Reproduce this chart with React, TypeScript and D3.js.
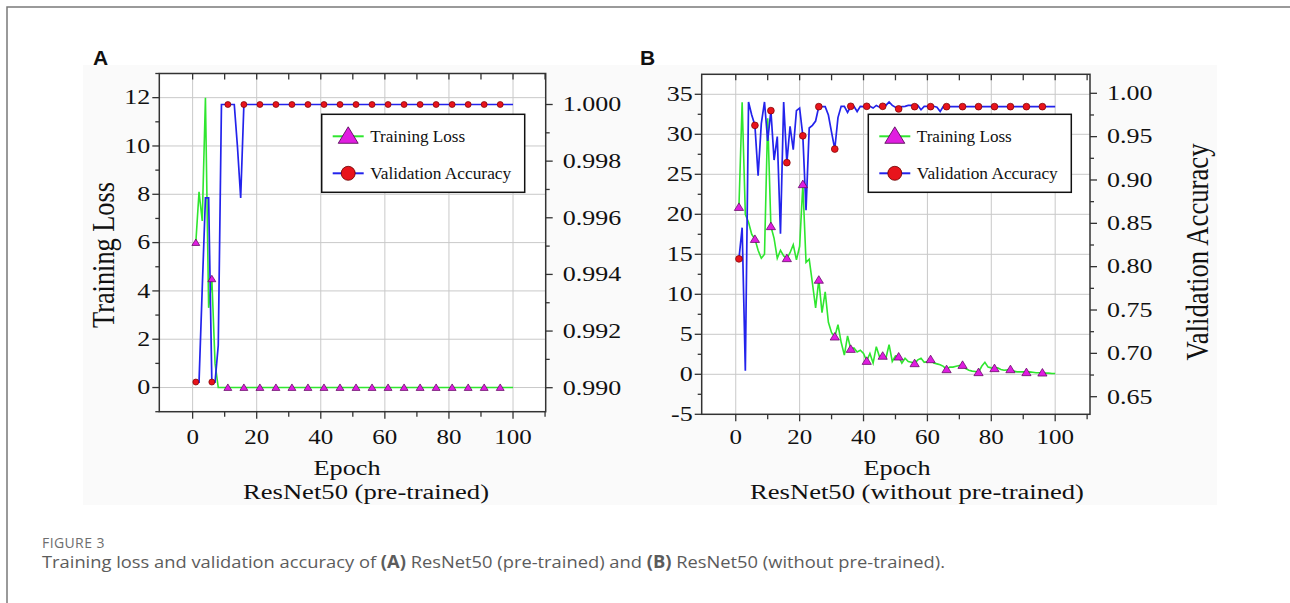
import React, { useEffect, useRef } from 'react';
import * as d3 from 'd3';

// epochs 1..100, markers every 5 epochs
const epochs = d3.range(1, 101);
const markerEpochs = [1, 6, 11, 16, 21, 26, 31, 36, 41, 46, 51, 56, 61, 66, 71, 76, 81, 86, 91, 96];

// panel A: ResNet50 (pre-trained)
const lossA = [
  6.0, 8.1, 6.9, 12.0, 3.3, 4.5, 1.0, 0.0, 0.0, 0.0,
  0.0, 0.0, 0.0, 0.0, 0.0, 0.0, 0.0, 0.0, 0.0, 0.0,
  0.0, 0.0, 0.0, 0.0, 0.0, 0.0, 0.0, 0.0, 0.0, 0.0,
  0.0, 0.0, 0.0, 0.0, 0.0, 0.0, 0.0, 0.0, 0.0, 0.0,
  0.0, 0.0, 0.0, 0.0, 0.0, 0.0, 0.0, 0.0, 0.0, 0.0,
  0.0, 0.0, 0.0, 0.0, 0.0, 0.0, 0.0, 0.0, 0.0, 0.0,
  0.0, 0.0, 0.0, 0.0, 0.0, 0.0, 0.0, 0.0, 0.0, 0.0,
  0.0, 0.0, 0.0, 0.0, 0.0, 0.0, 0.0, 0.0, 0.0, 0.0,
  0.0, 0.0, 0.0, 0.0, 0.0, 0.0, 0.0, 0.0, 0.0, 0.0,
  0.0, 0.0, 0.0, 0.0, 0.0, 0.0, 0.0, 0.0, 0.0, 0.0,
];
const accA = [
  0.9902, 0.9902, 0.9935, 0.9967, 0.9967, 0.9902, 0.9902, 0.9915, 1.0, 1.0,
  1.0, 1.0, 1.0, 0.9985, 0.9967, 1.0, 1.0, 1.0, 1.0, 1.0,
  1.0, 1.0, 1.0, 1.0, 1.0, 1.0, 1.0, 1.0, 1.0, 1.0,
  1.0, 1.0, 1.0, 1.0, 1.0, 1.0, 1.0, 1.0, 1.0, 1.0,
  1.0, 1.0, 1.0, 1.0, 1.0, 1.0, 1.0, 1.0, 1.0, 1.0,
  1.0, 1.0, 1.0, 1.0, 1.0, 1.0, 1.0, 1.0, 1.0, 1.0,
  1.0, 1.0, 1.0, 1.0, 1.0, 1.0, 1.0, 1.0, 1.0, 1.0,
  1.0, 1.0, 1.0, 1.0, 1.0, 1.0, 1.0, 1.0, 1.0, 1.0,
  1.0, 1.0, 1.0, 1.0, 1.0, 1.0, 1.0, 1.0, 1.0, 1.0,
  1.0, 1.0, 1.0, 1.0, 1.0, 1.0, 1.0, 1.0, 1.0, 1.0,
];

// panel B: ResNet50 (without pre-trained)
const lossB = [
  20.9, 34.0, 20.0, 19.0, 17.5, 16.9, 15.5, 14.5, 15.0, 32.0,
  18.5, 17.0, 14.5, 15.5, 14.8, 14.5, 15.2, 16.2, 14.3, 16.0,
  23.75, 14.0, 14.4, 11.4, 8.3, 11.8, 7.7, 10.3, 6.5, 5.2,
  4.7, 6.2, 4.0, 2.4, 4.8, 3.16, 3.3, 2.8, 3.0, 2.6,
  1.66, 2.6, 1.4, 3.45, 2.2, 2.3, 2.0, 3.7, 1.6, 2.3,
  2.2, 1.4, 2.0, 1.6, 1.5, 1.37, 1.8, 2.0, 1.5, 1.6,
  1.87, 1.4, 1.3, 1.2, 1.0, 0.62, 0.9, 0.9, 1.0, 1.1,
  1.16, 0.7, 0.5, 0.4, 0.35, 0.25, 1.0, 1.5, 0.9, 0.8,
  0.75, 0.8, 0.6, 0.5, 0.55, 0.62, 0.4, 0.3, 0.3, 0.3,
  0.25, 0.3, 0.25, 0.2, 0.2, 0.2, 0.15, 0.15, 0.1, 0.1,
];
const accB = [
  0.809, 0.845, 0.68, 0.99, 0.975, 0.963, 0.905, 0.965, 0.99, 0.945,
  0.98, 0.923, 0.95, 0.838, 0.99, 0.92, 0.962, 0.935, 0.98, 0.983,
  0.951, 0.865, 0.96, 0.963, 0.968, 0.9846, 0.9846, 0.9846, 0.975, 0.955,
  0.9357, 0.972, 0.985, 0.985, 0.978, 0.985, 0.985, 0.979, 0.985, 0.9846,
  0.985, 0.985, 0.983, 0.986, 0.984, 0.985, 0.986, 0.99, 0.986, 0.984,
  0.982, 0.9846, 0.985, 0.986, 0.986, 0.9846, 0.986, 0.981, 0.985, 0.985,
  0.9846, 0.985, 0.984, 0.979, 0.985, 0.9846, 0.9846, 0.9846, 0.9846, 0.9846,
  0.9846, 0.9846, 0.9846, 0.9846, 0.9846, 0.9846, 0.9846, 0.9846, 0.9846, 0.9846,
  0.9846, 0.9846, 0.9846, 0.9846, 0.9846, 0.9846, 0.9846, 0.9846, 0.9846, 0.9846,
  0.9846, 0.9846, 0.9846, 0.9846, 0.9846, 0.9846, 0.9846, 0.9846, 0.9846, 0.9846,
];

const xTicks = [0, 20, 40, 60, 80, 100];
const xMinor = [0, 10, 20, 30, 40, 50, 60, 70, 80, 90, 100, 110];
const leftTicksA = [0, 2, 4, 6, 8, 10, 12];
const leftMinorA = [-1, 1, 3, 5, 7, 9, 11, 13];
const rightTicksA = [0.99, 0.992, 0.994, 0.996, 0.998, 1.0];
const rightMinorA = [0.991, 0.993, 0.995, 0.997, 0.999];
const leftTicksB = [-5, 0, 5, 10, 15, 20, 25, 30, 35];
const leftMinorB = [-2.5, 2.5, 7.5, 12.5, 17.5, 22.5, 27.5, 32.5];
const rightTicksB = [0.65, 0.7, 0.75, 0.8, 0.85, 0.9, 0.95, 1.0];
const rightMinorB = [0.675, 0.725, 0.775, 0.825, 0.875, 0.925, 0.975];

const legendNames = ['Training Loss', 'Validation Accuracy'];

const GREEN = '#2fe62f';
const BLUE = '#2323ec';
const MAGENTA = '#e01ee0';
const RED = '#e8141c';
const SERIF = '"Liberation Serif", "Times New Roman", serif';
const SANS = '"Open Sans", "Noto Sans", sans-serif';

const panels = [
  {
    label: 'A', labelX: 93,
    left: 159.3, right: 545.7, top: 73.5, bottom: 411.7,
    xDomain: [-10.4, 110.2], yLDomain: [-1, 13], yRDomain: [0.99, 1.0], yRRange: [387.7, 104.5],
    loss: lossA, acc: accA, leftTicks: leftTicksA, leftMinor: leftMinorA,
    rightTicks: rightTicksA, rightMinor: rightMinorA, rightFmt: '.3f',
    legendX: 321.7, tri: 3.6, dot: 3,
    yTitle: 'Training Loss', yTitleX: 114, yTitleY: 255, yTitleLen: 146,
    sub: 'ResNet50 (pre-trained)', subLen: 246, epochX: 347, subX: 366,
  },
  {
    label: 'B', labelX: 640,
    left: 701.7, right: 1090, top: 74.3, bottom: 414.3,
    xDomain: [-10.66, 110.9], yLDomain: [-5, 37.5], yRDomain: [0.65, 1.0], yRRange: [396.7, 93.3],
    loss: lossB, acc: accB, leftTicks: leftTicksB, leftMinor: leftMinorB,
    rightTicks: rightTicksB, rightMinor: rightMinorB, rightFmt: '.2f',
    legendX: 868.3, tri: 4.2, dot: 3.4,
    yTitle: 'Validation Accuracy', yTitleX: 1208, yTitleY: 252, yTitleLen: 217,
    sub: 'ResNet50 (without pre-trained)', subLen: 334, epochX: 897, subX: 917,
  },
];

function triPath(cx: number, cy: number, s: number) {
  return `M${cx},${cy - s}L${cx + s * 1.1},${cy + s * 0.8}L${cx - s * 1.1},${cy + s * 0.8}Z`;
}

function drawPanel(svg: any, p: any) {
  const x = d3.scaleLinear().domain(p.xDomain).range([p.left, p.right]);
  const yL = d3.scaleLinear().domain(p.yLDomain).range([p.bottom, p.top]);
  const yR = d3.scaleLinear().domain(p.yRDomain).range(p.yRRange);
  const g = svg.append('g');

  g.append('rect').attr('x', p.left).attr('y', p.top)
    .attr('width', p.right - p.left).attr('height', p.bottom - p.top).attr('fill', '#fff');

  // grid
  g.selectAll('.gy').data(p.leftTicks.filter((v: number) => v > p.yLDomain[0])).enter().append('line')
    .attr('x1', p.left).attr('x2', p.right)
    .attr('y1', (d: number) => yL(d)).attr('y2', (d: number) => yL(d))
    .attr('stroke', '#c9c9c9').attr('stroke-width', 1);
  g.selectAll('.gx').data(xTicks).enter().append('line')
    .attr('y1', p.top).attr('y2', p.bottom)
    .attr('x1', (d: number) => x(d)).attr('x2', (d: number) => x(d))
    .attr('stroke', '#c9c9c9').attr('stroke-width', 1);

  // series
  const lossLine = d3.line<number>().x((d, i) => x(epochs[i])).y(d => yL(d));
  const accLine = d3.line<number>().x((d, i) => x(epochs[i])).y(d => yR(d));
  g.append('path').attr('d', lossLine(p.loss)).attr('fill', 'none')
    .attr('stroke', GREEN).attr('stroke-width', 1.6);
  g.append('path').attr('d', accLine(p.acc)).attr('fill', 'none')
    .attr('stroke', BLUE).attr('stroke-width', 1.7);

  g.selectAll('.tri').data(markerEpochs).enter().append('path')
    .attr('d', (e: number) => triPath(x(e), yL(p.loss[e - 1]), p.tri))
    .attr('fill', MAGENTA).attr('stroke', '#5a005a').attr('stroke-width', 0.7);
  g.selectAll('.dot').data(markerEpochs).enter().append('circle')
    .attr('cx', (e: number) => x(e)).attr('cy', (e: number) => yR(p.acc[e - 1]))
    .attr('r', p.dot)
    .attr('fill', RED).attr('stroke', '#7a0000').attr('stroke-width', 0.7);

  // frame
  g.append('rect').attr('x', p.left).attr('y', p.top)
    .attr('width', p.right - p.left).attr('height', p.bottom - p.top)
    .attr('fill', 'none').attr('stroke', '#333').attr('stroke-width', 1.5);

  const tickStroke = (sel: any) => sel.attr('stroke', '#333').attr('stroke-width', 1.3);
  // top ticks (inward) and bottom ticks (outward)
  tickStroke(g.selectAll('.tt').data(xMinor).enter().append('line')
    .attr('x1', (d: number) => x(d)).attr('x2', (d: number) => x(d))
    .attr('y1', p.top).attr('y2', p.top + 6));
  tickStroke(g.selectAll('.bt').data(xMinor).enter().append('line')
    .attr('x1', (d: number) => x(d)).attr('x2', (d: number) => x(d))
    .attr('y1', p.bottom).attr('y2', (d: number) => p.bottom + (d % 20 === 0 ? 7 : 5)));
  // left ticks
  tickStroke(g.selectAll('.lt').data(p.leftTicks.concat(p.leftMinor)).enter().append('line')
    .attr('x1', p.left).attr('x2', (d: number) => p.left - (p.leftTicks.includes(d) ? 7 : 4))
    .attr('y1', (d: number) => yL(d)).attr('y2', (d: number) => yL(d)));
  // right ticks
  tickStroke(g.selectAll('.rt').data(p.rightTicks.concat(p.rightMinor)).enter().append('line')
    .attr('x1', p.right).attr('x2', (d: number) => p.right + (p.rightTicks.includes(d) ? 7 : 4))
    .attr('y1', (d: number) => yR(d)).attr('y2', (d: number) => yR(d)));

  const lbl = (sel: any) => sel.attr('font-family', SERIF).attr('font-size', 20).attr('fill', '#111');
  // tick labels
  lbl(g.selectAll('.xl').data(xTicks).enter().append('text')
    .attr('transform', (d: number) => `translate(${x(d)},444) scale(1.25,1)`)
    .attr('text-anchor', 'middle').text((d: number) => String(d)));
  lbl(g.selectAll('.yl').data(p.leftTicks).enter().append('text')
    .attr('transform', (d: number) => `translate(${p.left - 9},${yL(d)}) scale(1.3,1)`)
    .attr('text-anchor', 'end').attr('dy', '0.34em').text((d: number) => String(d)));
  const rf = d3.format(p.rightFmt);
  lbl(g.selectAll('.rl').data(p.rightTicks).enter().append('text')
    .attr('transform', (d: number) => `translate(${p.right + 17},${yR(d)}) scale(1.3,1)`)
    .attr('text-anchor', 'start').attr('dy', '0.34em').text((d: number) => rf(d)));

  // titles
  g.append('text').attr('x', p.epochX).attr('y', 475).attr('text-anchor', 'middle')
    .attr('font-family', SERIF).attr('font-size', 20).attr('fill', '#111')
    .attr('textLength', 67).attr('lengthAdjust', 'spacingAndGlyphs').text('Epoch');
  g.append('text').attr('x', p.subX).attr('y', 499).attr('text-anchor', 'middle')
    .attr('font-family', SERIF).attr('font-size', 20).attr('fill', '#111')
    .attr('textLength', p.subLen).attr('lengthAdjust', 'spacingAndGlyphs').text(p.sub);
  g.append('text')
    .attr('transform', `translate(${p.yTitleX},${p.yTitleY}) scale(1.2,1) rotate(-90)`)
    .attr('text-anchor', 'middle').attr('font-family', SERIF).attr('font-size', 26).attr('fill', '#111')
    .attr('textLength', p.yTitleLen).attr('lengthAdjust', 'spacingAndGlyphs').text(p.yTitle);

  // panel letter
  g.append('text').attr('x', p.labelX).attr('y', 65)
    .attr('font-family', '"Liberation Sans", Arial, sans-serif').attr('font-weight', 'bold')
    .attr('font-size', 21).attr('fill', '#111').text(p.label);

  // legend
  const lg = g.append('g').attr('transform', `translate(${p.legendX},114.3)`);
  lg.append('rect').attr('width', 203).attr('height', 78).attr('fill', '#fff')
    .attr('stroke', '#111').attr('stroke-width', 1.5);
  const rows = lg.selectAll('.row').data(legendNames).enter().append('g')
    .attr('transform', (d: string, i: number) => `translate(0,${i === 0 ? 22 : 59})`);
  rows.append('line').attr('x1', 11).attr('x2', 42).attr('y1', 0).attr('y2', 0)
    .attr('stroke', (d: string, i: number) => (i === 0 ? GREEN : BLUE)).attr('stroke-width', 2);
  rows.filter((d: string, i: number) => i === 0).append('path')
    .attr('d', 'M26.5,-9.5L36.5,7L16.5,7Z').attr('fill', MAGENTA).attr('stroke', '#4a004a').attr('stroke-width', 0.8);
  rows.filter((d: string, i: number) => i === 1).append('circle')
    .attr('cx', 26.5).attr('cy', 0).attr('r', 7)
    .attr('fill', RED).attr('stroke', '#6a0000').attr('stroke-width', 0.8);
  rows.append('text').attr('x', 48.5).attr('y', 0).attr('dy', '0.33em')
    .attr('font-family', SERIF).attr('font-size', 16.5).attr('fill', '#111')
    .attr('textLength', (d: string, i: number) => (i === 0 ? 95 : 141))
    .attr('lengthAdjust', 'spacingAndGlyphs').text((d: string) => d);
}

const App = () => {
  const ref = useRef<SVGSVGElement | null>(null);

  useEffect(() => {
    const svg = d3.select(ref.current);
    svg.selectAll('*').remove();

    svg.append('rect').attr('width', 1290).attr('height', 603).attr('fill', '#fff');
    svg.append('path').attr('d', 'M7,603V7H1290').attr('fill', 'none')
      .attr('stroke', '#7a7a7a').attr('stroke-width', 1.5);
    svg.append('rect').attr('x', 83).attr('y', 65).attr('width', 1134).attr('height', 440)
      .attr('fill', '#fafafa');

    panels.forEach(p => drawPanel(svg, p));

    // caption
    svg.append('text').attr('x', 42).attr('y', 548)
      .attr('font-family', SANS).attr('font-size', 14)
      .attr('letter-spacing', 0.4).attr('fill', '#6e6e6e').text('FIGURE 3');
    const cap = svg.append('text').attr('x', 42).attr('y', 568)
      .attr('font-family', SANS).attr('font-size', 17)
      .attr('textLength', 903).attr('lengthAdjust', 'spacingAndGlyphs')
      .attr('fill', '#5c5c5c');
    cap.append('tspan').text('Training loss and validation accuracy of ');
    cap.append('tspan').attr('font-weight', 'bold').text('(A)');
    cap.append('tspan').text(' ResNet50 (pre-trained) and ');
    cap.append('tspan').attr('font-weight', 'bold').text('(B)');
    cap.append('tspan').text(' ResNet50 (without pre-trained).');
  }, []);

  return (
    <svg ref={ref} width={1290} height={603}
      style={{ position: 'absolute', left: 0, top: 0, display: 'block' }} />
  );
};

export default App;
